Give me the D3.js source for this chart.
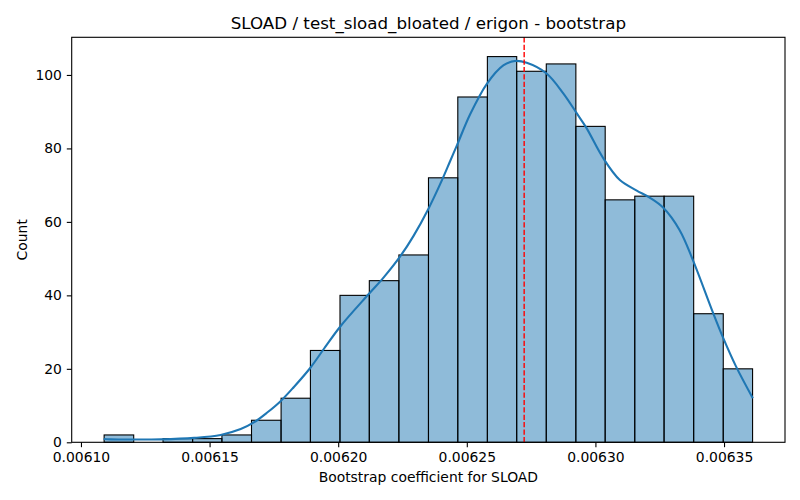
<!DOCTYPE html>
<html>
<head>
<meta charset="utf-8">
<script src="https://cdn.jsdelivr.net/npm/d3@7"></script>
<style>
  body { margin: 0; background: #fff; }
  text { font-family: "DejaVu Sans", sans-serif; fill: #000; }
</style>
</head>
<body>
<div id="viz-container"></div>
<script>
// histogram bin edges and counts
var binEdges = [0.0061090, 0.0061205, 0.0061319, 0.0061434, 0.0061548, 0.0061663,
    0.0061778, 0.0061892, 0.0062007, 0.0062121, 0.0062236, 0.0062351, 0.0062465,
    0.0062580, 0.0062694, 0.0062809, 0.0062924, 0.0063038, 0.0063153, 0.0063267,
    0.0063382, 0.0063497, 0.0063611];
var binCounts = [2, 0, 1, 1, 2, 6, 12, 25, 40, 44, 51, 72, 94, 105, 101, 103, 86, 66, 67, 67, 35, 20];

// kde curve
var kdeX = [0.0061088, 0.0061116, 0.0061194, 0.0061310, 0.0061440, 0.0061543, 0.0061621,
    0.0061672, 0.0061724, 0.0061776, 0.0061827, 0.0061892, 0.0061944, 0.0062009, 0.0062118,
    0.0062177, 0.0062241, 0.0062293, 0.0062351, 0.0062403, 0.0062435, 0.0062462, 0.0062513,
    0.0062578, 0.0062642, 0.0062687, 0.0062733, 0.0062810, 0.0062875, 0.0062927, 0.0062965,
    0.0063030, 0.0063095, 0.0063159, 0.0063211, 0.0063263, 0.0063327, 0.0063379, 0.0063457,
    0.0063495, 0.0063547, 0.0063612];
var kdeY = [0.9, 0.8, 0.75, 0.8, 1.2, 2.0, 3.6, 5.4, 8.1, 11.2, 15.0, 20.3, 25.4, 31.6, 40.3,
    44.9, 50.6, 56.2, 63.6, 71.3, 76.5, 80.9, 89.3, 97.6, 102.6, 103.8, 103.3, 100.4, 95.0,
    89.6, 85.6, 77.4, 71.4, 68.6, 66.6, 63.9, 57.8, 49.6, 35.3, 28.7, 20.6, 12.0];

var meanValue = 0.0062723;
var xTicks = [0.00610, 0.00615, 0.00620, 0.00625, 0.00630, 0.00635];
var yTicks = [0, 20, 40, 60, 80, 100];

var titleText = "SLOAD / test_sload_bloated / erigon - bootstrap";
var xLabel = "Bootstrap coefficient for SLOAD";
var yLabel = "Count";

function drawChart(id, width, height)
{
    var left = 71.7, right = 785, top = 37.3, bottom = 442.3;

    var svg = d3.select(id).append("svg")
                .attr("width", width)
                .attr("height", height);

    var lo = binEdges[0], hi = binEdges[binEdges.length - 1];
    var pad = (hi - lo) * 0.05;
    var x = d3.scaleLinear().domain([lo - pad, hi + pad]).range([left, right]);
    var y = d3.scaleLinear().domain([0, d3.max(binCounts) * 1.05]).range([bottom, top]);

    var bars = binCounts.map(function(c, i) {
        return { x0: binEdges[i], x1: binEdges[i + 1], count: c };
    });

    svg.append("g").selectAll("rect")
        .data(bars.filter(function(d) { return d.count > 0; }))
      .enter().append("rect")
        .attr("x", function(d) { return x(d.x0); })
        .attr("y", function(d) { return y(d.count); })
        .attr("width", function(d) { return x(d.x1) - x(d.x0); })
        .attr("height", function(d) { return y(0) - y(d.count); })
        .style("fill", "rgba(31,119,180,0.5)")
        .style("stroke", "#000")
        .style("stroke-width", 1.1);

    var line = d3.line()
        .x(function(d) { return x(d[0]); })
        .y(function(d) { return y(d[1]); })
        .curve(d3.curveCatmullRom.alpha(0.5));

    svg.append("path")
        .datum(kdeX.map(function(v, i) { return [v, kdeY[i]]; }))
        .attr("d", line)
        .style("fill", "none")
        .style("stroke", "#1f77b4")
        .style("stroke-width", 2.1);

    svg.append("line")
        .attr("x1", x(meanValue)).attr("x2", x(meanValue))
        .attr("y1", top).attr("y2", bottom)
        .style("stroke", "red")
        .style("stroke-width", 1.4)
        .style("stroke-dasharray", "5.2,2.2");

    // axes
    var xAxis = svg.append("g")
        .attr("transform", "translate(0," + bottom + ")")
        .call(d3.axisBottom(x).tickValues(xTicks).tickFormat(d3.format(".5f"))
              .tickSize(4.9).tickPadding(4.9));
    var yAxis = svg.append("g")
        .attr("transform", "translate(" + left + ",0)")
        .call(d3.axisLeft(y).tickValues(yTicks).tickSize(4.9).tickPadding(4.9));

    [xAxis, yAxis].forEach(function(a) {
        a.select(".domain").remove();
        a.selectAll("line").style("stroke", "#000").style("stroke-width", 1.1);
        a.selectAll("text").style("font-size", "13.9px").style("font-family", "DejaVu Sans");
    });

    svg.append("rect")
        .attr("x", left).attr("y", top)
        .attr("width", right - left).attr("height", bottom - top)
        .style("fill", "none")
        .style("stroke", "#000")
        .style("stroke-width", 1.1);

    svg.append("text")
        .attr("x", (left + right) / 2).attr("y", 29)
        .attr("text-anchor", "middle")
        .style("font-size", "16.7px")
        .text(titleText);

    svg.append("text")
        .attr("x", (left + right) / 2).attr("y", 482)
        .attr("text-anchor", "middle")
        .style("font-size", "13.9px")
        .text(xLabel);

    svg.append("text")
        .attr("transform", "translate(27," + (top + bottom) / 2 + ") rotate(-90)")
        .attr("text-anchor", "middle")
        .style("font-size", "13.9px")
        .text(yLabel);
}

drawChart("#viz-container", 800, 500);
</script>
</body>
</html>
